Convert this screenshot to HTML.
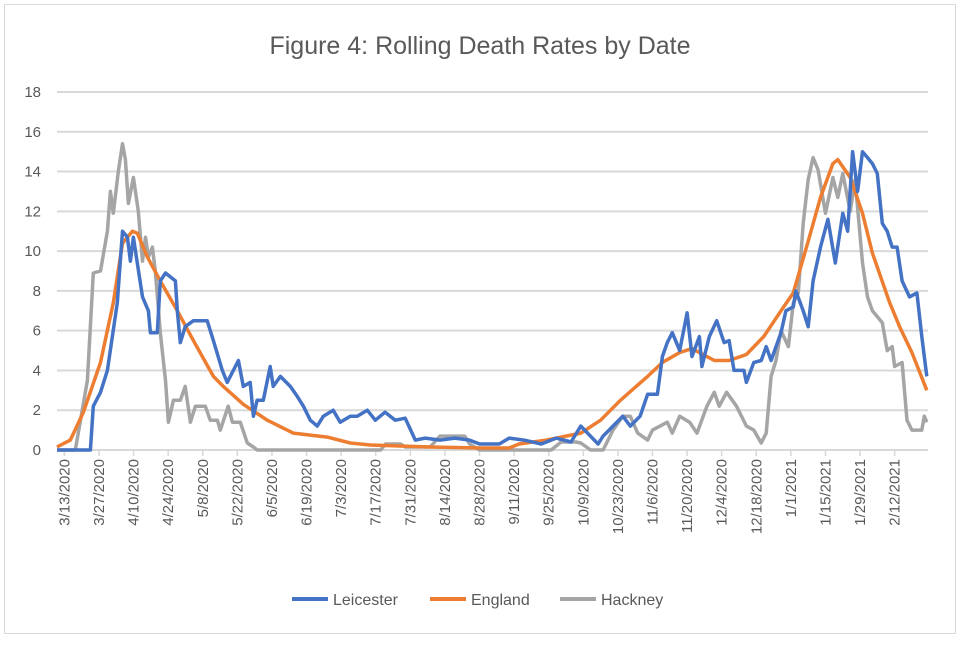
<!DOCTYPE html>
<html><head><meta charset="utf-8"><style>
body{margin:0;background:#fff;font-family:"Liberation Sans",sans-serif}
svg text{font-family:"Liberation Sans",sans-serif;fill:#595959}
</style></head><body>
<svg id="chart" width="960" height="640" xmlns="http://www.w3.org/2000/svg">
<rect x="4.5" y="4.5" width="951" height="629" fill="#fff" stroke="#d9d9d9"/>
<text x="480" y="54" text-anchor="middle" font-size="25">Figure 4: Rolling Death Rates by Date</text>
<g id="grid"></g><g id="xaxis"></g><g id="series"></g><g id="legend"></g>
</svg>
<script>
const yTicks=[0,2,4,6,8,10,12,14,16,18];
const xLabels=["3/13/2020","3/27/2020","4/10/2020","4/24/2020","5/8/2020","5/22/2020","6/5/2020","6/19/2020","7/3/2020","7/17/2020","7/31/2020","8/14/2020","8/28/2020","9/11/2020","9/25/2020","10/9/2020","10/23/2020","11/6/2020","11/20/2020","12/4/2020","12/18/2020","1/1/2021","1/15/2021","1/29/2021","2/12/2021"];
const leicesterDays=[-3,10.5,11.7,14.6,17.4,21.4,23.5,25.5,26.7,27.9,29.5,31.6,34,34.8,37.6,38.8,40.9,44.9,45.7,46.9,48.9,52.2,57.8,60.3,63.9,65.9,70.4,72.4,75.2,76.5,78,80.5,83.3,84.5,87.4,91.4,94.2,96.7,99.5,102.3,104.8,108.8,111.6,115.7,118.5,122.6,125.8,129.8,133.9,137.9,142,146,152,158,164,168,176,180,186,193,199,205,209,216,218,222,226,229,233,236,240,242,244,246,249,252,254,257,258,261,264,267,269,271,275,276,279,282,284,286,290,292,295,296,299,301,303,306,309,312,315,317,319,321,323,325,327,329,331,333,335,337,339,342,345,347,349];
const leicesterVals=[0,0,2.2,2.9,4,7.4,11,10.7,9.5,10.7,9.4,7.7,7,5.9,5.9,8.5,8.9,8.5,7,5.4,6.2,6.5,6.5,5.5,4,3.4,4.5,3.2,3.4,1.7,2.5,2.5,4.2,3.2,3.7,3.2,2.7,2.2,1.5,1.2,1.7,2,1.4,1.7,1.7,2,1.5,1.9,1.5,1.6,0.5,0.6,0.5,0.6,0.5,0.3,0.3,0.6,0.5,0.3,0.6,0.4,1.2,0.3,0.7,1.2,1.7,1.2,1.7,2.8,2.8,4.7,5.4,5.9,5,6.9,4.7,5.7,4.2,5.7,6.5,5.4,5.5,4,4,3.4,4.4,4.5,5.2,4.5,5.9,7,7.2,8,7,6.2,8.5,10.2,11.6,9.4,11.9,11,15,13,15,14.7,14.4,13.9,11.4,11,10.2,10.2,8.5,7.7,7.9,5.7,3.7];
const englandDays=[-3,2.4,7.7,14.6,19.8,23.5,27.5,29.5,33.6,38.8,45.7,52.2,60.3,64.3,72.4,82.1,92.6,106.4,115.7,123.8,148,168,180,184,195,207,209,217,225,236,242,249,254,263,269,276,283,290,295,301,306,311,313,318,323,327,334,338,343,349];
const englandVals=[0.15,0.5,1.9,4.4,7.4,10.4,11,10.9,9.7,8.5,7,5.5,3.7,3.2,2.3,1.5,0.85,0.65,0.35,0.25,0.15,0.1,0.1,0.3,0.5,0.8,0.85,1.5,2.5,3.7,4.4,4.9,5.1,4.5,4.5,4.8,5.7,7,7.9,10.5,12.7,14.4,14.6,13.7,11.9,9.9,7.4,6.2,4.9,3];
const hackneyDays=[-3,4.4,6.5,9.3,11.7,14.6,17.4,18.6,19.8,21.8,23.5,24.7,25.9,27.9,29.9,31.6,32.8,34,35.6,36.8,38.8,40.9,42.1,44.1,46.9,48.9,51,53,57,59,61.9,63.1,66.3,68,71.2,74,76.5,78,128,130,136,138,148,152,162,164,168,197,201,207,209,213,218,222,226,229,232,236,238,244,246,249,253,256,260,263,265,268,272,276,279,282,284,286,288,290,293,295,297,299,301,303,305,308,311,313,315,318,320,323,325,327,331,333,335,336,339,341,343,347,348,349];
const hackneyVals=[0,0,1.5,3.5,8.9,9,11,13,11.9,14,15.4,14.6,12.4,13.7,12,9.5,10.7,9.7,10.2,9,5.9,3.5,1.4,2.5,2.5,3.2,1.4,2.2,2.2,1.5,1.5,1,2.2,1.4,1.4,0.35,0.15,0,0,0.3,0.3,0.15,0.15,0.7,0.7,0.3,0,0,0.4,0.4,0.35,0,0,1,1.7,1.7,0.85,0.5,1,1.4,0.85,1.7,1.4,0.85,2.2,2.9,2.2,2.9,2.2,1.2,1,0.35,0.85,3.7,4.5,6,5.2,7.4,7.9,11.4,13.6,14.7,14.1,11.9,13.7,12.7,13.9,12,13.6,9.4,7.7,7,6.4,5,5.2,4.2,4.4,1.5,1,1,1.7,1.4];
const NS="http://www.w3.org/2000/svg";
const X0=57,X1=928,D0=-3,D1=349.5,Y0=450,Y1=92,V1=18;
const xs=d=>X0+(d-D0)*(X1-X0)/(D1-D0);
const ys=v=>Y0-v*(Y0-Y1)/V1;
function mk(tag,attrs,parent){const e=document.createElementNS(NS,tag);for(const k in attrs)e.setAttribute(k,attrs[k]);parent.appendChild(e);return e;}
const grid=document.getElementById('grid');
yTicks.forEach(v=>{
 const l=mk('line',{x1:X0,x2:X1,y1:ys(v),y2:ys(v),stroke:'#d9d9d9','stroke-width':2},grid);
 
 
 const t=mk('text',{x:41,y:ys(v)+5,'text-anchor':'end','font-size':15},grid);
 t.textContent=v;
 
 
});
const xa=document.getElementById('xaxis');
xLabels.forEach((s,i)=>{
 const x=xs(i*14);
 const tk=mk('line',{x1:x,x2:x,y1:Y0,y2:Y0+6,stroke:'#d9d9d9','stroke-width':1.5},xa);
 
 
 const t=mk('text',{x:0,y:0,'text-anchor':'end','font-size':15,transform:`translate(${x+5},459) rotate(-90)`},xa);
 t.textContent=s;
 
 
});
const sg=document.getElementById('series');
[[hackneyDays,hackneyVals,'#a5a5a5','hackney-line'],[englandDays,englandVals,'#ed7d31','england-line'],[leicesterDays,leicesterVals,'#4472c4','leicester-line']].forEach(([d,v,c,n])=>{
 const pts=d.map((dd,i)=>xs(dd).toFixed(1)+','+ys(v[i]).toFixed(1)).join(' ');
 const p=mk('polyline',{points:pts,fill:'none',stroke:c,'stroke-width':3.5,'stroke-linejoin':'round'},sg);
 
 
});
const lg=document.getElementById('legend');
[['Leicester','#4472c4',292],['England','#ed7d31',430],['Hackney','#a5a5a5',560]].forEach(([n,c,x])=>{
 const l=mk('line',{x1:x,x2:x+36,y1:599,y2:599,stroke:c,'stroke-width':4},lg);
 
 
 const t=mk('text',{x:x+41,y:605,'font-size':16},lg);
 t.textContent=n;
 
 
});
</script>
</body></html>
